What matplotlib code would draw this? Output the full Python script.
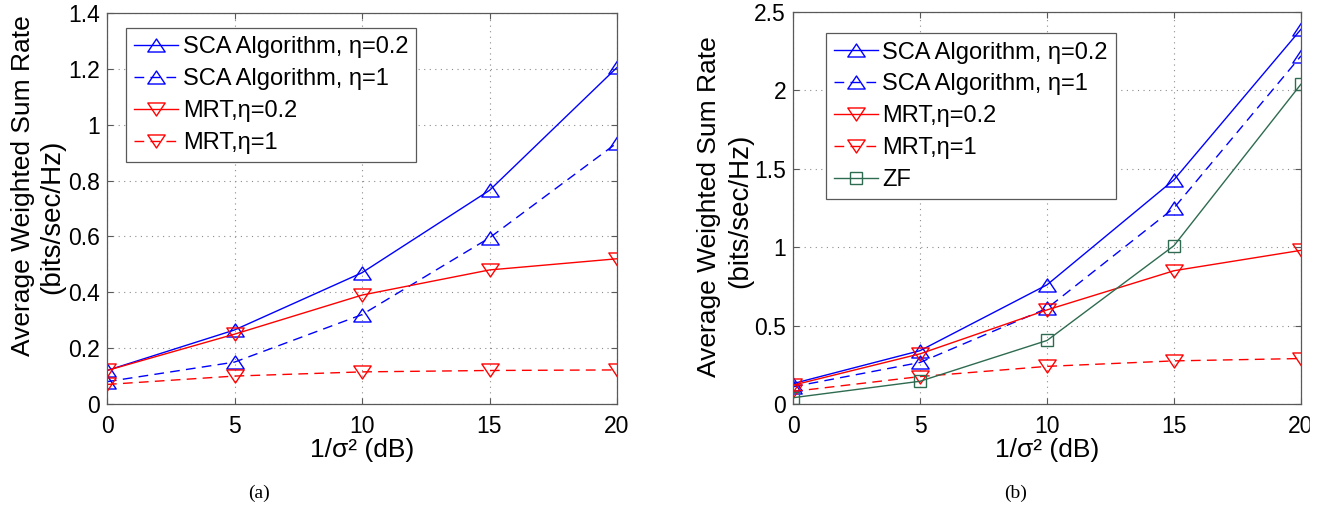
import matplotlib
matplotlib.use('Agg')
import matplotlib.pyplot as plt
from matplotlib.path import Path
from matplotlib.patches import Rectangle

plt.rcParams['font.family'] = ['Liberation Sans', 'DejaVu Sans']

# Data
snr_db = [0, 5, 10, 15, 20]

# (a)
sca_02_a = [0.12, 0.265, 0.47, 0.765, 1.205]
sca_1_a = [0.08, 0.15, 0.32, 0.595, 0.935]
mrt_02_a = [0.12, 0.25, 0.39, 0.48, 0.52]
mrt_1_a = [0.07, 0.10, 0.115, 0.12, 0.122]

# (b)
sca_02_b = [0.13, 0.34, 0.76, 1.43, 2.39]
sca_1_b = [0.11, 0.265, 0.61, 1.25, 2.22]
mrt_02_b = [0.12, 0.32, 0.60, 0.85, 0.98]
mrt_1_b = [0.08, 0.175, 0.24, 0.275, 0.29]
zf_b = [0.04, 0.145, 0.405, 1.01, 2.04]

yticks_a = [0, 0.2, 0.4, 0.6, 0.8, 1, 1.2, 1.4]
yticks_b = [0, 0.5, 1, 1.5, 2, 2.5]
xticks = [0, 5, 10, 15, 20]

# wide, flat triangles like the MATLAB markers
tri_up = Path([(-1, -0.75), (1, -0.75), (0, 0.75), (-1, -0.75)], closed=True)
tri_dn = Path([(-1, 0.75), (1, 0.75), (0, -0.75), (-1, 0.75)], closed=True)

dash = (0, (7, 4.5))
zf_col = '#2e6b50'

fig = plt.figure(figsize=(13.26, 5.12), dpi=100)
W, H = 1326, 512


def axes_px(l, t, r, b):
    return fig.add_axes([l / W, 1 - b / H, (r - l) / W, (b - t) / H])


ax1 = axes_px(107, 13, 617, 404)
ax2 = axes_px(793, 12, 1301, 404)

kw = dict(lw=1.0, ms=12.5, mfc='none', mew=1.0)

ax1.plot(snr_db, sca_02_a, color='blue', marker=tri_up, label='SCA Algorithm, η=0.2', **kw)
ax1.plot(snr_db, sca_1_a, color='blue', marker=tri_up, linestyle=dash, label='SCA Algorithm, η=1', **kw)
ax1.plot(snr_db, mrt_02_a, color='red', marker=tri_dn, label='MRT,η=0.2', **kw)
ax1.plot(snr_db, mrt_1_a, color='red', marker=tri_dn, linestyle=dash, label='MRT,η=1', **kw)

ax2.plot(snr_db, sca_02_b, color='blue', marker=tri_up, label='SCA Algorithm, η=0.2', **kw)
ax2.plot(snr_db, sca_1_b, color='blue', marker=tri_up, linestyle=dash, label='SCA Algorithm, η=1', **kw)
ax2.plot(snr_db, mrt_02_b, color='red', marker=tri_dn, label='MRT,η=0.2', **kw)
ax2.plot(snr_db, mrt_1_b, color='red', marker=tri_dn, linestyle=dash, label='MRT,η=1', **kw)
ax2.plot(snr_db, zf_b, color=zf_col, marker='s', lw=1.0, ms=8.5, mfc='none', mew=1.0, label='ZF')

for ax, yt, anchor in ((ax1, yticks_a, (0.0373, 0.9616)), (ax2, yticks_b, (0.0644, 0.9457))):
    ax.set_xlim(0, 20)
    ax.set_ylim(yt[0], yt[-1])
    ax.set_xticks(xticks)
    ax.set_yticks(yt)
    ax.set_yticklabels(['%g' % v for v in yt])
    ax.tick_params(direction='in', top=True, right=True, length=4, width=0.8,
                   color='0.35', labelsize=16.5)
    ax.tick_params(axis='x', pad=8)
    ax.tick_params(axis='y', pad=5)
    ax.grid(True, color='0.55', linestyle=(0, (1, 4)), lw=0.8)
    for s in ax.spines.values():
        s.set_color('0.35')
        s.set_linewidth(0.9)
    leg = ax.legend(loc='upper left', bbox_to_anchor=anchor, borderaxespad=0,
                    fontsize=17, handlelength=1.85, handletextpad=0.2,
                    borderpad=0.35, labelspacing=0.42, fancybox=False,
                    framealpha=1, edgecolor='0.35', numpoints=1)
    leg.get_frame().set_linewidth(0.9)

# axis labels
fig.text(362 / W, 1 - 450 / H, '1/σ² (dB)', ha='center', va='center', fontsize=19)
fig.text(1047 / W, 1 - 450 / H, '1/σ² (dB)', ha='center', va='center', fontsize=19)

fig.text(23 / W, 1 - 186 / H, 'Average Weighted Sum Rate', rotation=90,
         ha='center', va='center', fontsize=19)
fig.text(52 / W, 1 - 217 / H, '(bits/sec/Hz)', rotation=90,
         ha='center', va='center', fontsize=20)
fig.text(709 / W, 1 - 207 / H, 'Average Weighted Sum Rate', rotation=90,
         ha='center', va='center', fontsize=19)
fig.text(740 / W, 1 - 211 / H, '(bits/sec/Hz)', rotation=90,
         ha='center', va='center', fontsize=20)

# captions
fig.text(259 / W, 1 - 493 / H, '(a)', ha='center', va='center', fontsize=14,
         family='Liberation Serif')
fig.text(1016 / W, 1 - 493 / H, '(b)', ha='center', va='center', fontsize=14,
         family='Liberation Serif')

# the source image is cut just right of the last tick label
fig.patches.append(Rectangle((1310 / W, 0.05), 1 - 1310 / W, 0.2,
                             transform=fig.transFigure, color='white', zorder=10))

fig.savefig('out.png', dpi=100)
